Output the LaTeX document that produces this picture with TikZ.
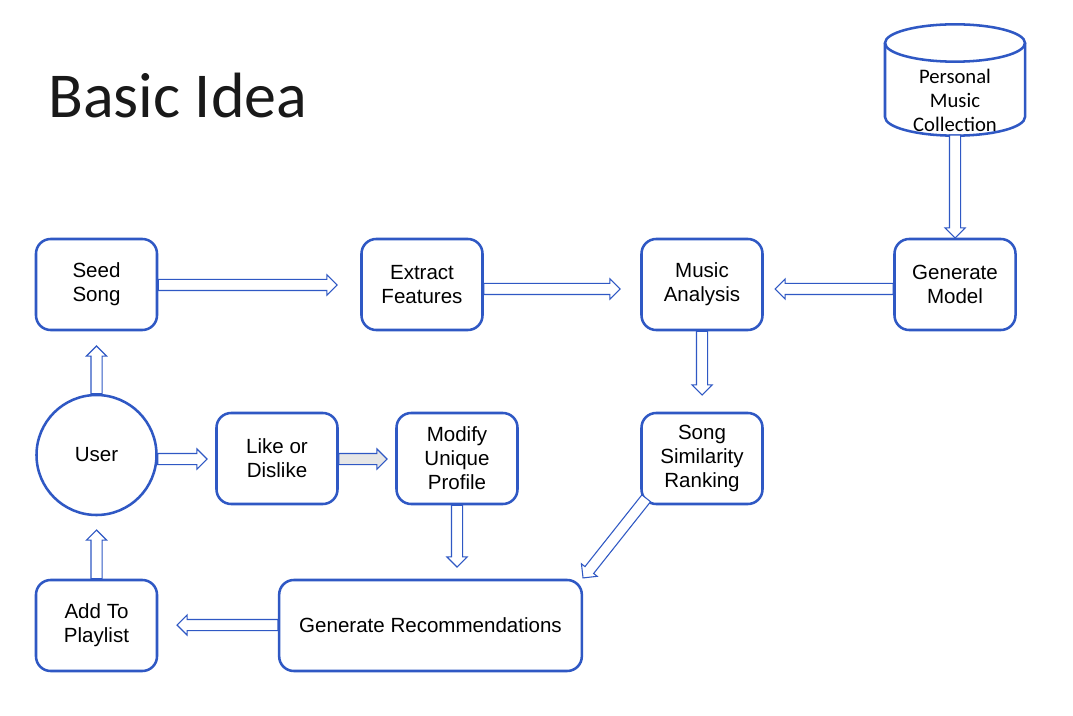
\documentclass[tikz,border=0pt]{standalone}
\usepackage{fontspec}
\setmainfont{Liberation Sans}
\newfontfamily\calib{Carlito}
\usetikzlibrary{shapes.arrows,calc}
\definecolor{bblue}{RGB}{47,88,196}
\definecolor{agray}{RGB}{230,230,230}
\definecolor{titlecol}{RGB}{25,25,25}
\newcommand\barrow[4][white]{%
  \path let \p1=(#3),\p2=(#4),\n1={atan2(\y2-\y1,\x2-\x1)},\n2={veclen(\x2-\x1,\y2-\y1)} in
    node[blockarrow,fill=#1,minimum height=\n2,rotate=\n1,anchor=tail] (#2) at (\p1) {};}
\begin{document}
\begin{tikzpicture}[x=0.75pt,y=-0.75pt,
  box/.style={draw=bblue,line width=1.9pt,rounded corners=11pt,minimum width=90.75pt,minimum height=68.25pt,align=center,font=\fontsize{15.4}{18}\selectfont,inner sep=2pt},
  blockarrow/.style={single arrow,draw=bblue,line width=0.8pt,inner xsep=0pt,inner ysep=3.75pt,minimum width=0pt,single arrow head extend=3.4pt,outer sep=0pt}]
\useasboundingbox[fill=white] (0,0) rectangle (1073,716);

\node[anchor=base west,inner sep=0pt,font=\calib\fontsize{48}{50}\selectfont,text=titlecol] (title) at (48,118) {Basic Idea};

% cylinder
\draw[bblue,line width=1.9pt,fill=white] (885,43) -- (885,117) arc[start angle=180,end angle=360,x radius=52.5pt,y radius=14pt] -- (1025,43);
\draw[bblue,line width=1.9pt] (955,43) ellipse[x radius=52.5pt,y radius=14pt];
\node[align=center,font=\calib\fontsize{15.5}{18}\selectfont,inner sep=0pt] (pmc) at (955,100) {Personal\\Music\\Collection};
\coordinate (cylbot) at (955,135);

\node[box] (seed) at (96.5,284.5) {Seed\\Song};
\node[box] (extract) at (422,284.5) {Extract\\Features};
\node[box] (music) at (702,284.5) {Music\\Analysis};
\node[box] (genmodel) at (955,284.5) {Generate\\Model};
\node[draw=bblue,line width=1.9pt,circle,minimum size=90pt,inner sep=0pt,font=\fontsize{15.4}{18}\selectfont] (user) at (96.5,455) {User};
\node[box] (like) at (277,458.5) {Like or\\Dislike};
\node[box] (modify) at (457,458.5) {Modify\\Unique\\Profile};
\node[box] (ssr) at (702,458.5) {Song\\Similarity\\Ranking};
\node[box] (addto) at (96.5,625.5) {Add To\\Playlist};
\node[box,minimum width=227pt] (genrec) at (430.5,625.5) {Generate Recommendations};

% tips
\coordinate (t1) at (337,285);
\coordinate (t2) at (620,289);
\coordinate (t3) at (775,289);
\coordinate (t4) at (955,238);
\coordinate (t5) at (702,395);
\coordinate (t6) at (583,578);
\coordinate (t7) at (457,567);
\coordinate (t8) at (207,459);
\coordinate (t9) at (387,459);
\coordinate (t10) at (96.5,346);
\coordinate (t11) at (96.5,530);
\coordinate (t12) at (177,625);

\barrow{a1}{seed.east|-t1}{t1}
\barrow{a2}{extract.east|-t2}{t2}
\barrow{a3}{genmodel.west|-t3}{t3}
\barrow{a4}{cylbot}{t4}
\barrow{a5}{music.south}{t5}
\barrow{a6}{$(ssr.south west)+(6,-7)$}{t6}
\barrow{a7}{modify.south}{t7}
\barrow{a8}{user.east|-t8}{t8}
\barrow[agray]{a9}{like.east|-t9}{t9}
\barrow{a10}{user.north}{t10}
\barrow{a11}{addto.north}{t11}
\barrow{a12}{genrec.west|-t12}{t12}
\end{tikzpicture}
\end{document}
